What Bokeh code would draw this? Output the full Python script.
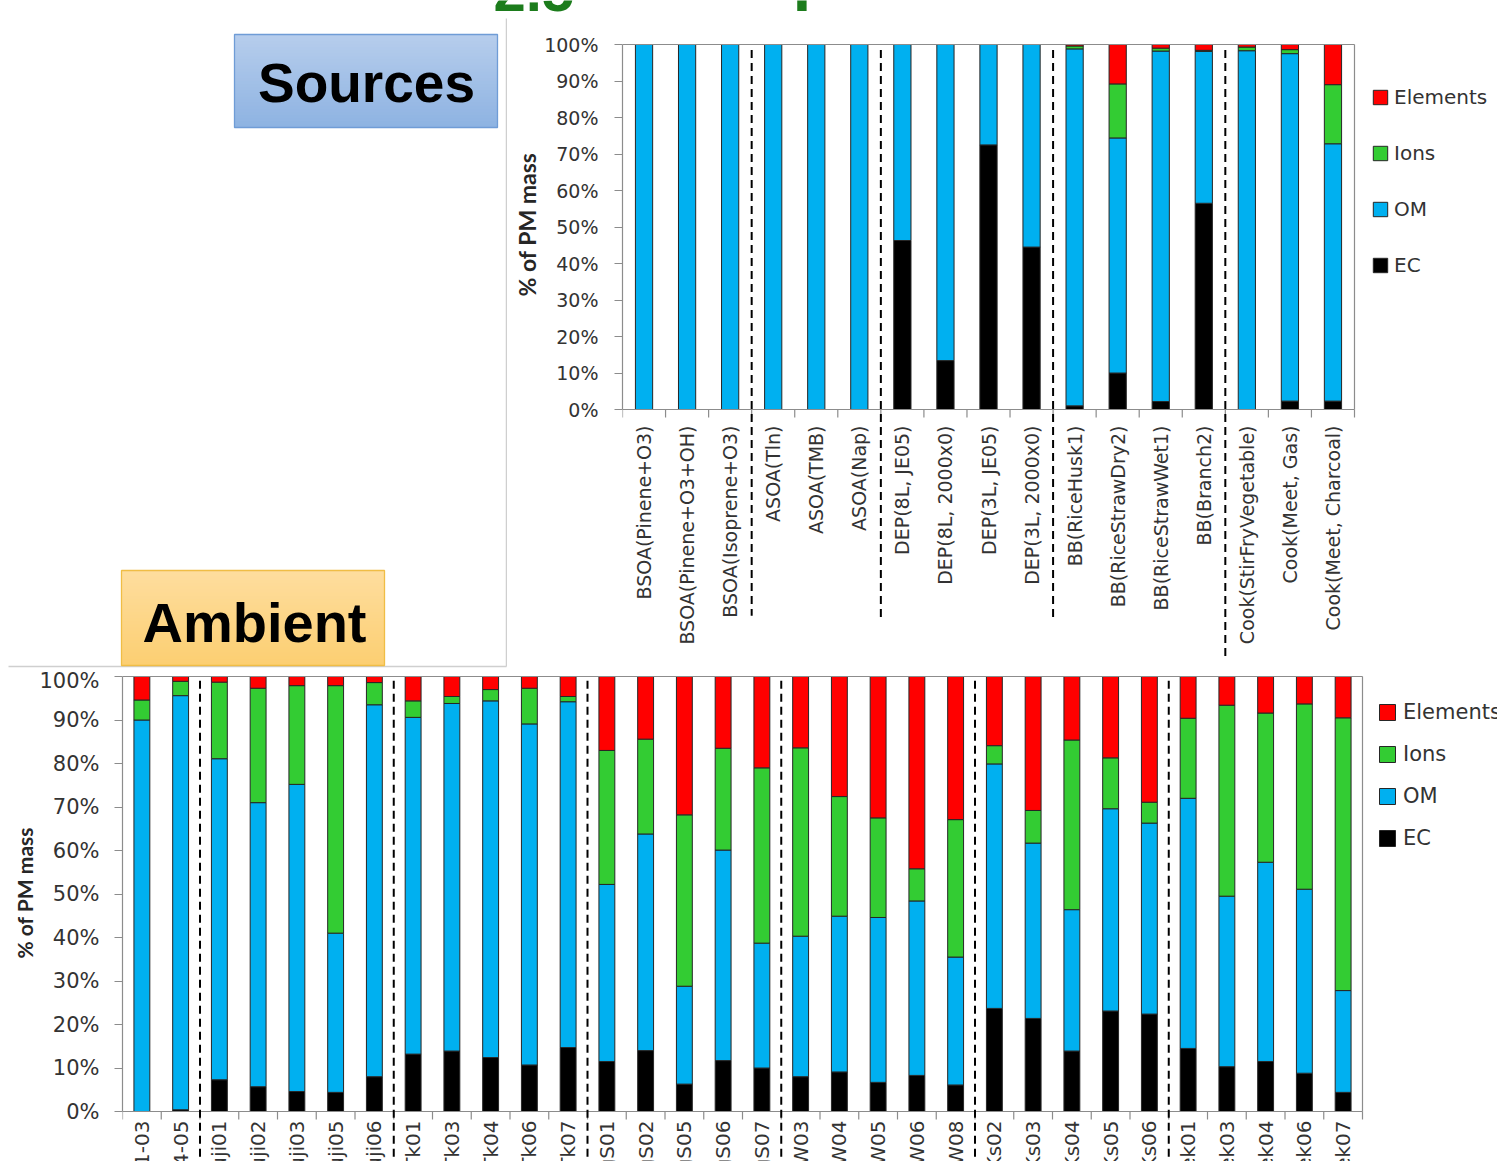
import numpy as np
from bokeh.plotting import figure
from bokeh.layouts import column, row
from bokeh.models import (Range1d, FixedTicker, PrintfTickFormatter, Legend,
                          LegendItem, ColumnDataSource, Label, Title)
from bokeh.core.properties import value
from bokeh.embed import file_html
from bokeh.resources import INLINE

# ---------------------------------------------------------------- data
components = ["EC", "OM", "Ions", "Elements"]
component_colors = ["#000000", "#00b0f0", "#33cc33", "#ff0000"]

source_names = [
    "BSOA(Pinene+O3)", "BSOA(Pinene+O3+OH)", "BSOA(Isoprene+O3)",
    "ASOA(Tln)", "ASOA(TMB)", "ASOA(Nap)",
    "DEP(8L, JE05)", "DEP(8L, 2000x0)", "DEP(3L, JE05)", "DEP(3L, 2000x0)",
    "BB(RiceHusk1)", "BB(RiceStrawDry2)", "BB(RiceStrawWet1)", "BB(Branch2)",
    "Cook(StirFryVegetable)", "Cook(Meet, Gas)", "Cook(Meet, Charcoal)",
]
source_groups = [3, 3, 4, 4, 3]
source_ec = [0, 0, 0, 0, 0, 0, 46.3, 13.4, 72.5, 44.5, 1.0, 10.0, 2.2, 56.5, 0.0, 2.3, 2.3]
source_om = [100, 100, 100, 100, 100, 100, 53.7, 86.6, 27.5, 55.5, 97.8, 64.4, 96.0, 41.6, 98.3, 95.2, 70.5]
source_ions = [0, 0, 0, 0, 0, 0, 0, 0, 0, 0, 0.8, 14.8, 0.8, 0.3, 1.0, 1.1, 16.2]
source_elements = [0, 0, 0, 0, 0, 0, 0, 0, 0, 0, 0.4, 10.8, 1.0, 1.6, 0.7, 1.4, 11.0]

ambient_names = [
    "1-03", "4-05",
    "uji01", "uji02", "uji03", "uji05", "uji06",
    "Tk01", "Tk03", "Tk04", "Tk06", "Tk07",
    "gS01", "gS02", "gS05", "gS06", "gS07",
    "W03", "W04", "W05", "W06", "W08",
    "Ks02", "Ks03", "Ks04", "Ks05", "Ks06",
    "ek01", "ek03", "ek04", "ek06", "ek07",
]
ambient_groups = [2, 5, 5, 5, 5, 5, 5]
ambient_ec = [0.0, 0.4, 7.3, 5.7, 4.6, 4.4, 8.0, 13.2, 13.9, 12.4, 10.7, 14.7,
              11.5, 14.0, 6.3, 11.7, 10.0, 8.0, 9.1, 6.7, 8.3, 6.1,
              23.7, 21.4, 13.9, 23.1, 22.4, 14.5, 10.3, 11.5, 8.8, 4.4]
ambient_om = [90.0, 95.2, 73.8, 65.3, 70.6, 36.6, 85.5, 77.4, 79.9, 82.0, 78.4, 79.5,
              40.7, 49.8, 22.5, 48.4, 28.7, 32.3, 35.8, 37.9, 40.1, 29.4,
              56.2, 40.3, 32.5, 46.5, 43.9, 57.5, 39.2, 45.8, 42.3, 23.4]
ambient_ions = [4.6, 3.3, 17.6, 26.3, 22.7, 56.9, 5.1, 3.8, 1.6, 2.6, 8.2, 1.2,
                30.8, 21.8, 39.4, 23.4, 40.3, 43.3, 27.5, 22.9, 7.4, 31.6,
                4.2, 7.5, 39.0, 11.7, 4.8, 18.4, 43.9, 34.3, 42.6, 62.7]
ambient_elements = [5.4, 1.1, 1.3, 2.7, 2.1, 2.1, 1.4, 5.6, 4.6, 3.0, 2.7, 4.6,
                    17.0, 14.4, 31.8, 16.5, 21.0, 16.4, 27.6, 32.5, 44.2, 32.9,
                    15.9, 30.8, 14.6, 18.7, 28.9, 9.6, 6.6, 8.4, 6.3, 9.5]

y_ticks = list(range(0, 101, 10))
y_title = "% of PM mass"

# ---------------------------------------------------------------- styles
TICK_FONT = "DejaVu Sans"
TITLE_FONT = "Lato"
TEXT_COLOR = "#333333"
AXIS_COLOR = "#8c8c8c"
BAR_EDGE = "#262626"
HEAD_GREEN = "#1c7c1c"


def bare_canvas(width, height, x_range, y_range):
    p = figure(width=width, height=height, x_range=x_range, y_range=y_range,
               x_axis_type=None, y_axis_type=None, output_backend="svg",
               toolbar_location=None, min_border=0, frame_align=False)
    p.outline_line_color = None
    p.background_fill_color = "white"
    return p


def mix(c1, c2, t):
    a = [int(c1[i:i + 2], 16) for i in (1, 3, 5)]
    b = [int(c2[i:i + 2], 16) for i in (1, 3, 5)]
    return "#%02x%02x%02x" % tuple(round(x + (y - x) * t) for x, y in zip(a, b))


def shaded_box(p, left, right, top, bottom, c_top, c_bottom, edge, steps=30):
    ys = np.linspace(top, bottom, steps + 1)
    cols = [mix(c_top, c_bottom, t) for t in np.linspace(0, 1, steps)]
    p.quad(left=left, right=right, top=ys[:-1], bottom=np.minimum(ys[1:] + 1.5, bottom),
           fill_color=cols, line_color=None)
    p.quad(left=[left], right=[right], top=[top], bottom=[bottom],
           fill_color=None, line_color=edge, line_width=1.3)


def composition_chart(names, groups, series, *, width, height, frame_left, frame_top,
                      hundred_px, zero_px, bar_px, bar_width, tick_px, tick_standoff,
                      label_px, label_gap, title_px, title_offset, title_standoff,
                      legend_px, legend_loc, glyph_px, spacing, standoff,
                      sep_top, sep_bottoms):
    n = len(names)
    ppu = (zero_px - hundred_px) / 100.0
    y_end = 100 + (hundred_px - frame_top) / ppu
    y_start = -(height - zero_px) / ppu
    x_end = -0.5 + (width - frame_left) / bar_px
    p = figure(width=width, height=height,
               x_range=Range1d(-0.5, x_end), y_range=Range1d(y_start, y_end),
               x_axis_location=None, output_backend="svg", toolbar_location=None,
               min_border_left=frame_left, min_border_right=0,
               min_border_top=frame_top, min_border_bottom=0, frame_align=False)
    p.grid.visible = False
    p.outline_line_color = None
    p.background_fill_color = "white"
    p.border_fill_color = "white"

    data = {"x": list(range(n))}
    data.update({c: s for c, s in zip(components, series)})
    src = ColumnDataSource(data)
    bars = p.vbar_stack(components, x="x", width=bar_width, source=src,
                        fill_color=component_colors, line_color=BAR_EDGE,
                        line_width=1)

    # category axis: base line, boundary ticks, chart border and labels
    edges = np.arange(n + 1) - 0.5
    p.segment(x0=edges, y0=0, x1=edges, y1=-8 / ppu, line_color=AXIS_COLOR, line_width=1.2)
    p.segment(x0=[-0.5, -0.5, n - 0.5], y0=[0, 100, 0],
              x1=[n - 0.5, n - 0.5, n - 0.5], y1=[0, 100, 100],
              line_color=AXIS_COLOR, line_width=1.2)
    p.text(x=list(range(n)), y=-label_gap / ppu, text=names, angle=np.pi / 2,
           text_align="right", text_baseline="middle",
           text_font=value(TICK_FONT), text_font_size=f"{label_px}px",
           text_color=TEXT_COLOR)

    # dashed separators between groups
    cuts = np.cumsum(groups)[:-1] - 0.5
    p.segment(x0=cuts, y0=sep_top, x1=cuts, y1=sep_bottoms, line_color="black",
              line_width=2, line_dash="8 5")

    ya = p.yaxis[0]
    ya.bounds = (0, 100)
    ya.ticker = FixedTicker(ticks=y_ticks)
    ya.formatter = PrintfTickFormatter(format="%d%%")
    ya.major_tick_out = 8
    ya.major_tick_in = 0
    ya.minor_tick_line_color = None
    ya.major_tick_line_color = AXIS_COLOR
    ya.axis_line_color = AXIS_COLOR
    ya.axis_line_width = 1.2
    ya.major_label_standoff = tick_standoff
    ya.major_label_text_font = TICK_FONT
    ya.major_label_text_font_size = f"{tick_px}px"
    ya.major_label_text_color = TEXT_COLOR

    # axis title, placed beside the 0-100 % span
    p.add_layout(Title(text=y_title, align="left", offset=title_offset,
                       standoff=title_standoff, text_font=TITLE_FONT,
                       text_font_style="bold", text_font_size=f"{title_px}px",
                       text_color="#262626"), "left")

    legend = Legend(
        items=[LegendItem(label=c, renderers=[r])
               for c, r in zip(components[::-1], bars[::-1])],
        location=legend_loc, orientation="vertical",
        glyph_width=glyph_px, glyph_height=glyph_px, label_height=glyph_px,
        spacing=spacing, padding=0, margin=0, label_standoff=standoff,
        label_text_font=TICK_FONT, label_text_font_size=f"{legend_px}px",
        label_text_color=TEXT_COLOR, border_line_color=None,
        background_fill_alpha=0)
    p.add_layout(legend)
    return p


# ---------------------------------------------------------------- heading strip
strip = bare_canvas(1497, 12, Range1d(0, 1497), Range1d(12, 0))
strip.add_layout(Label(x=493, y=-9.1, text="2.5", text_font="Liberation Sans",
                       text_font_style="bold", text_font_size="58px",
                       text_color=HEAD_GREEN, text_align="left",
                       text_baseline="middle"))
strip.add_layout(Label(x=792, y=-27.7, text="p", text_font="Liberation Sans",
                       text_font_style="bold", text_font_size="68px",
                       text_color=HEAD_GREEN, text_align="left",
                       text_baseline="middle"))

# ---------------------------------------------------------------- left panel
panel = bare_canvas(507, 656, Range1d(0, 507), Range1d(668, 12))
panel.line(x=[506, 506], y=[18, 666], line_color="#cfcfcf", line_width=1.5)
panel.line(x=[8, 506], y=[666, 666], line_color="#cfcfcf", line_width=1.5)
shaded_box(panel, 234, 497, 34, 127, "#b6cdec", "#8eb3e2", "#6f9cd6")
panel.text(x=[366], y=[82], text=["Sources"], text_font=value("Liberation Sans"),
           text_font_style="bold", text_font_size="55px", text_color="black",
           text_align="center", text_baseline="middle")
shaded_box(panel, 121, 384, 570, 665, "#fedd9e", "#fccf72", "#f0bd45")
panel.text(x=[254], y=[622], text=["Ambient"], text_font=value("Liberation Sans"),
           text_font_style="bold", text_font_size="56px", text_color="black",
           text_align="center", text_baseline="middle")

# ---------------------------------------------------------------- charts
sources_chart = composition_chart(
    source_names, source_groups,
    [source_ec, source_om, source_ions, source_elements],
    width=990, height=656, frame_left=115, frame_top=31, hundred_px=32, zero_px=397,
    bar_px=732 / 17, bar_width=0.4, tick_px=19, tick_standoff=16,
    label_px=19, label_gap=16, title_px=23, title_offset=372, title_standoff=2,
    legend_px=20, legend_loc=(749, 391), glyph_px=18, spacing=32, standoff=5,
    sep_top=98.5, sep_bottoms=[-56.5, -57.0, -57.5, -68.0])

ambient_chart = composition_chart(
    ambient_names, ambient_groups,
    [ambient_ec, ambient_om, ambient_ions, ambient_elements],
    width=1497, height=493, frame_left=122, frame_top=7, hundred_px=8, zero_px=443,
    bar_px=1240 / 32, bar_width=0.41, tick_px=21, tick_standoff=15,
    label_px=20, label_gap=9, title_px=21, title_offset=203, title_standoff=0,
    legend_px=21, legend_loc=(1255, 311), glyph_px=20, spacing=18, standoff=6,
    sep_top=99.0, sep_bottoms=[-16.0] * 6)

layout = column(strip, row(panel, sources_chart), ambient_chart)

with open("out.html", "w") as f:
    f.write(file_html(layout, INLINE))
